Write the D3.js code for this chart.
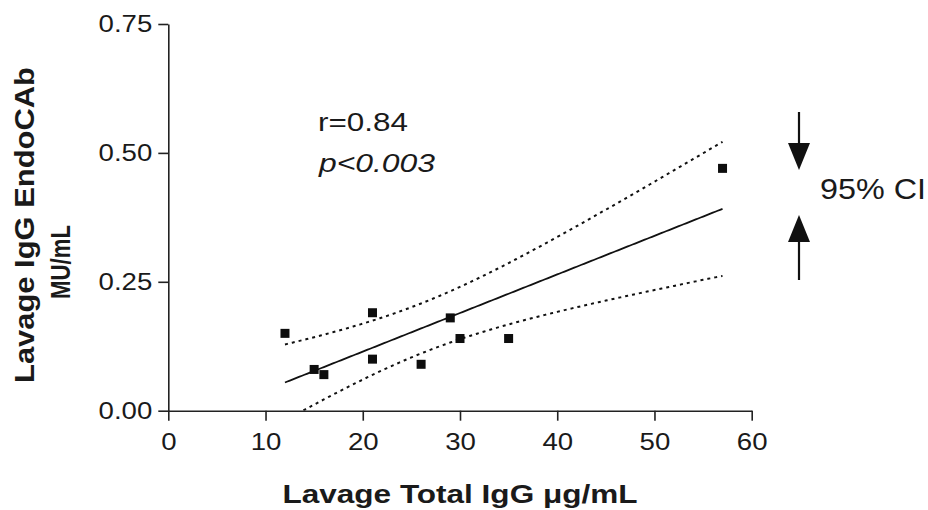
<!DOCTYPE html>
<html>
<head>
<meta charset="utf-8">
<script src="https://cdn.jsdelivr.net/npm/d3@7"></script>
<style>
  html, body { margin: 0; padding: 0; background: #fff; }
  svg { display: block; }
  text { font-family: "Liberation Sans", Arial, Helvetica, sans-serif; fill: #1a1a1a; }
</style>
</head>
<body>
<svg id="chart" width="928" height="510"></svg>
<script>
// ---- data ----
const totalIgG = [12, 15, 16, 21, 21, 26, 29, 30, 35, 57];           // x, µg/mL
const endoCAb  = [0.15, 0.08, 0.07, 0.19, 0.10, 0.09, 0.18, 0.14, 0.14, 0.47]; // y, MU/mL
const xTicks = [0, 10, 20, 30, 40, 50, 60];
const yTicks = [0.00, 0.25, 0.50, 0.75];
const xTitle = "Lavage Total IgG \u03BCg/mL";
const yTitleLines = ["Lavage IgG EndoCAb", "MU/mL"];
const statLines = ["r=0.84", "p<0.003"];
const ciLabel = "95% CI";
const tCrit = 2.306; // t(0.975, df = 8)

// ---- layout ----
const svg = d3.select("#chart");
const x = d3.scaleLinear().domain([0, 60]).range([168.3, 751.7]);
const y = d3.scaleLinear().domain([0, 0.75]).range([410.7, 24]);
const stretch = 1.15;

function widen(sel, k) {
  sel.each(function () {
    const w = this.getComputedTextLength();
    this.setAttribute("textLength", w * k);
    this.setAttribute("lengthAdjust", "spacingAndGlyphs");
  });
}

// ---- regression + 95% confidence band of the fit ----
const n = totalIgG.length;
const mx = d3.mean(totalIgG), my = d3.mean(endoCAb);
let sxx = 0, sxy = 0;
for (let i = 0; i < n; i++) {
  sxx += (totalIgG[i] - mx) ** 2;
  sxy += (totalIgG[i] - mx) * (endoCAb[i] - my);
}
const slope = sxy / sxx, intercept = my - slope * mx;
let sse = 0;
for (let i = 0; i < n; i++) sse += (endoCAb[i] - (intercept + slope * totalIgG[i])) ** 2;
const s = Math.sqrt(sse / (n - 2));
const xmin = d3.min(totalIgG), xmax = d3.max(totalIgG);
const fitX = d3.range(xmin, xmax + 1e-9, (xmax - xmin) / 180);
const band = fitX.map(v => {
  const yhat = intercept + slope * v;
  const half = tCrit * s * Math.sqrt(1 / n + (v - mx) ** 2 / sxx);
  return { x: v, fit: yhat, lo: yhat - half, hi: yhat + half };
});

// clip to plot area
svg.append("defs").append("clipPath").attr("id", "plotclip")
  .append("rect").attr("x", x(0)).attr("y", y(0.75))
  .attr("width", x(60) - x(0)).attr("height", y(0) - y(0.75));

const plot = svg.append("g").attr("clip-path", "url(#plotclip)");
const lineOf = key => d3.line().x(d => x(d.x)).y(d => y(d[key]));

plot.append("path").datum(band).attr("d", lineOf("hi"))
  .attr("fill", "none").attr("stroke", "#111").attr("stroke-width", 2)
  .attr("stroke-dasharray", "3,4");
plot.append("path").datum(band).attr("d", lineOf("lo"))
  .attr("fill", "none").attr("stroke", "#111").attr("stroke-width", 2)
  .attr("stroke-dasharray", "3,4");
plot.append("path").datum(band).attr("d", lineOf("fit"))
  .attr("fill", "none").attr("stroke", "#111").attr("stroke-width", 1.8);

// ---- axes ----
const xAxis = d3.axisBottom(x).tickValues(xTicks).tickSize(10).tickSizeOuter(0).tickPadding(8);
const yAxis = d3.axisLeft(y).tickValues(yTicks).tickSize(10).tickSizeOuter(0).tickPadding(6)
  .tickFormat(d3.format(".2f"));

const gx = svg.append("g").attr("transform", `translate(0,${y(0)})`).call(xAxis);
const gy = svg.append("g").attr("transform", `translate(${x(0)},0)`).call(yAxis);
[gx, gy].forEach(g => {
  g.select(".domain").attr("stroke", "#222").attr("stroke-width", 1.6);
  g.selectAll(".tick line").attr("stroke", "#222").attr("stroke-width", 1.6);
  g.selectAll(".tick text").attr("font-size", 24).attr("fill", "#1a1a1a")
    .attr("font-family", "Liberation Sans, Arial, sans-serif");
});
gx.selectAll(".tick text").attr("dy", "0.9em");
widen(gx.selectAll(".tick text"), stretch);
widen(gy.selectAll(".tick text"), stretch);

// ---- points ----
const sq = 9;
svg.append("g").selectAll("rect").data(totalIgG.map((v, i) => [v, endoCAb[i]]))
  .join("rect")
  .attr("x", d => x(d[0]) - sq / 2).attr("y", d => y(d[1]) - sq / 2)
  .attr("width", sq).attr("height", sq).attr("fill", "#0d0d0d");

// ---- axis titles ----
const xt = svg.append("text").attr("x", 460).attr("y", 503).attr("text-anchor", "middle")
  .attr("font-size", 26).attr("font-weight", "bold").text(xTitle);
xt.attr("textLength", 355).attr("lengthAdjust", "spacingAndGlyphs");

const yt1 = svg.append("text").attr("transform", "translate(34,225) rotate(-90)")
  .attr("text-anchor", "middle").attr("font-size", 27).attr("font-weight", "bold")
  .text(yTitleLines[0]);
yt1.attr("textLength", 316).attr("lengthAdjust", "spacingAndGlyphs");
const yt2 = svg.append("text").attr("transform", "translate(70,262) rotate(-90)")
  .attr("text-anchor", "middle").attr("font-size", 27).attr("font-weight", "bold")
  .text(yTitleLines[1]);
yt2.attr("textLength", 74).attr("lengthAdjust", "spacingAndGlyphs");

// ---- annotations ----
svg.append("text").attr("x", 318).attr("y", 131).attr("font-size", 25)
  .attr("textLength", 90).attr("lengthAdjust", "spacingAndGlyphs").text(statLines[0]);
svg.append("text").attr("x", 319).attr("y", 172).attr("font-size", 25)
  .attr("font-style", "italic")
  .attr("textLength", 116).attr("lengthAdjust", "spacingAndGlyphs").text(statLines[1]);

svg.append("text").attr("x", 820).attr("y", 199).attr("font-size", 30)
  .attr("textLength", 106).attr("lengthAdjust", "spacingAndGlyphs").text(ciLabel);

// CI arrows
const ax = 799;
const arrows = svg.append("g").attr("fill", "#111").attr("stroke", "#111");
arrows.append("line").attr("x1", ax).attr("x2", ax).attr("y1", 112).attr("y2", 146).attr("stroke-width", 2.2);
arrows.append("path").attr("d", `M${ax - 11},143 L${ax + 11},143 L${ax},170 Z`).attr("stroke", "none");
arrows.append("line").attr("x1", ax).attr("x2", ax).attr("y1", 240).attr("y2", 280).attr("stroke-width", 2.2);
arrows.append("path").attr("d", `M${ax - 11},242 L${ax + 11},242 L${ax},215 Z`).attr("stroke", "none");
</script>
</body>
</html>
